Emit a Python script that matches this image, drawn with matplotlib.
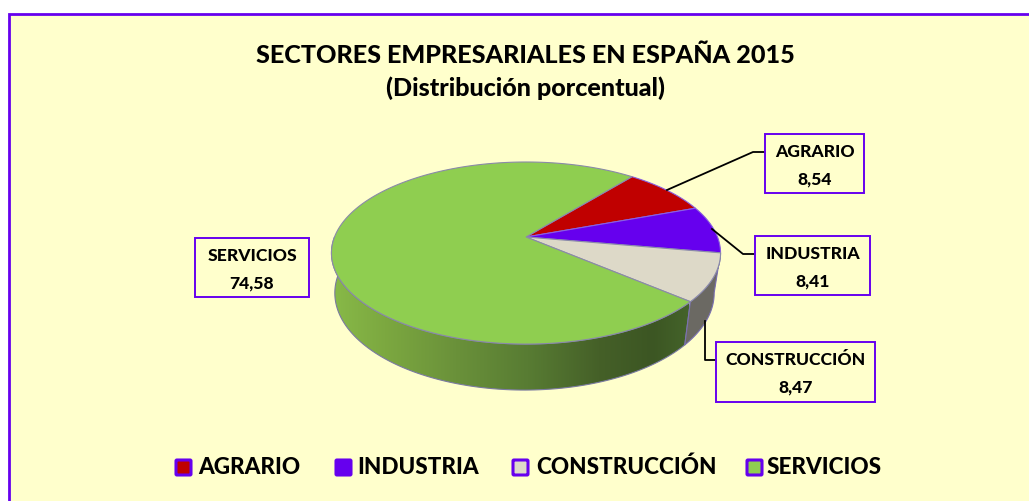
import numpy as np
import matplotlib
matplotlib.use('Agg')
import matplotlib.pyplot as plt
from matplotlib.patches import Polygon, Rectangle, FancyBboxPatch

sectores = ['AGRARIO', 'INDUSTRIA', 'CONSTRUCCIÓN', 'SERVICIOS']
valores = [8.54, 8.41, 8.47, 74.58]
etiquetas = ['8,54', '8,41', '8,47', '74,58']
colores = ['#C00000', '#6600EE', '#DDD9C8', '#8FCE50']
titulo = ['SECTORES EMPRESARIALES EN ESPAÑA 2015', '(Distribución porcentual)']

plt.rcParams['font.family'] = ['Lato', 'DejaVu Sans']
MORADO = '#6600EE'
FONDO = '#FFFFCC'

fig = plt.figure(figsize=(10.29, 5.01), dpi=100, facecolor='white')
ax = fig.add_axes([0, 0, 1, 1])
ax.set_xlim(0, 1029)
ax.set_ylim(501, 0)
ax.axis('off')

ax.add_patch(Rectangle((8.5, 14.2), 1040, 520, fc=FONDO, ec=MORADO, lw=2, zorder=0))

# pie en perspectiva: circulo unidad proyectado
cx, cy = 526, 237
a, b, k = 191.5, 88.2, 0.176


def tapa(ang):
    u, v = np.cos(ang), np.sin(ang)
    return cx + a * u / (1 + k * v), cy - b * v / (1 + k * v)


def base(ang):
    x, y = tapa(ang)
    d = 40 + 0.066 * (y - 253)
    return cx + (x - cx) * 0.975 - 1.5, y + d


inicio = np.radians(51)
fin = inicio - 2 * np.pi * np.cumsum(valores) / sum(valores)
ini = np.r_[inicio, fin[:-1]]


def pared(a0, a1):
    t = np.linspace(a0, a1, 120)
    xt, yt = tapa(t)
    xb, yb = base(t)
    return np.c_[np.r_[xt, xb[::-1]], np.r_[yt, yb[::-1]]]


# pared lateral con degradado
p_verde = Polygon(pared(ini[3], -np.pi), closed=True, fc='none', ec='none')
ax.add_patch(p_verde)
grad_x = [0, 0.15, 0.35, 0.55, 0.75, 0.9, 1]
grad_c = ['#88BA48', '#7CA840', '#6A913A', '#587C33', '#456028', '#3C5623', '#44632A']
rgb = np.array([matplotlib.colors.to_rgb(c) for c in grad_c])
xs = np.linspace(0, 1, 300)
img = np.stack([np.interp(xs, grad_x, rgb[:, i]) for i in range(3)], axis=-1)[None, :, :]
im = ax.imshow(img, extent=(331, 689, 400, 240), aspect='auto', zorder=1, interpolation='bilinear')
im.set_clip_path(p_verde)
ax.set_xlim(0, 1029)
ax.set_ylim(501, 0)
ax.add_patch(Polygon(pared(ini[3], -np.pi), closed=True, fc='none', ec='#7A7AA0', lw=0.8, zorder=2))
ax.add_patch(Polygon(pared(ini[2], ini[3]), closed=True, fc='#6B6963', ec='#7A70B0', lw=0.8, zorder=2))
ax.add_patch(Polygon(pared(ini[1], ini[2]), closed=True, fc='#6B6963', ec='none', lw=0, zorder=1.5))

# tapa
for i in range(4):
    t = np.linspace(ini[i], fin[i], 200)
    xt, yt = tapa(t)
    ec = '#8A8AA8' if i in (2, 3) else '#8A60E0'
    ax.add_patch(Polygon(np.c_[np.r_[cx, xt], np.r_[cy, yt]], closed=True,
                         fc=colores[i], ec=ec, lw=0.8, zorder=3))

# lineas guia
guias = [
    ([667, 753, 765], [190, 152, 152]),
    ([712, 743, 755], [229, 254, 254]),
    ([705, 705, 718], [321, 360, 360]),
]
for gx, gy in guias:
    ax.plot(gx, gy, color='black', lw=1.3, zorder=4)

# cajas de etiquetas
cajas = [(765, 134, 99, 59, 0), (755, 236, 115, 59, 1), (716, 342, 159, 60, 2), (195, 238, 114, 59, 3)]
for x, y, w, h, i in cajas:
    ax.add_patch(Rectangle((x, y), w, h, fc=FONDO, ec=MORADO, lw=1.4, zorder=5))
    ax.text(x + w / 2, y + 18, sectores[i], ha='center', va='center', fontsize=12.6,
            fontweight='black', color='black', zorder=6)
    ax.text(x + w / 2, y + 45, etiquetas[i], ha='center', va='center', fontsize=12.6,
            fontweight='black', color='black', zorder=6)

ax.text(525, 55, titulo[0], ha='center', va='center', fontsize=18.1, fontweight='black', color='black')
ax.text(525, 88, titulo[1], ha='center', va='center', fontsize=18.1, fontweight='black', color='black')

# leyenda
ley_cuadro = [175, 335, 512, 746]
ley_texto = [198, 357, 536, 767]
for x, tx, n, c in zip(ley_cuadro, ley_texto, sectores, colores):
    ax.add_patch(FancyBboxPatch((x + 1, 460), 15, 15, boxstyle='round,pad=0,rounding_size=1',
                                fc=c, ec=MORADO, lw=2.2, zorder=5))
    ax.text(tx, 467, n, ha='left', va='center', fontsize=16.2, fontweight='black', color='black', zorder=6)

fig.savefig('out.png', dpi=100, facecolor='white')
